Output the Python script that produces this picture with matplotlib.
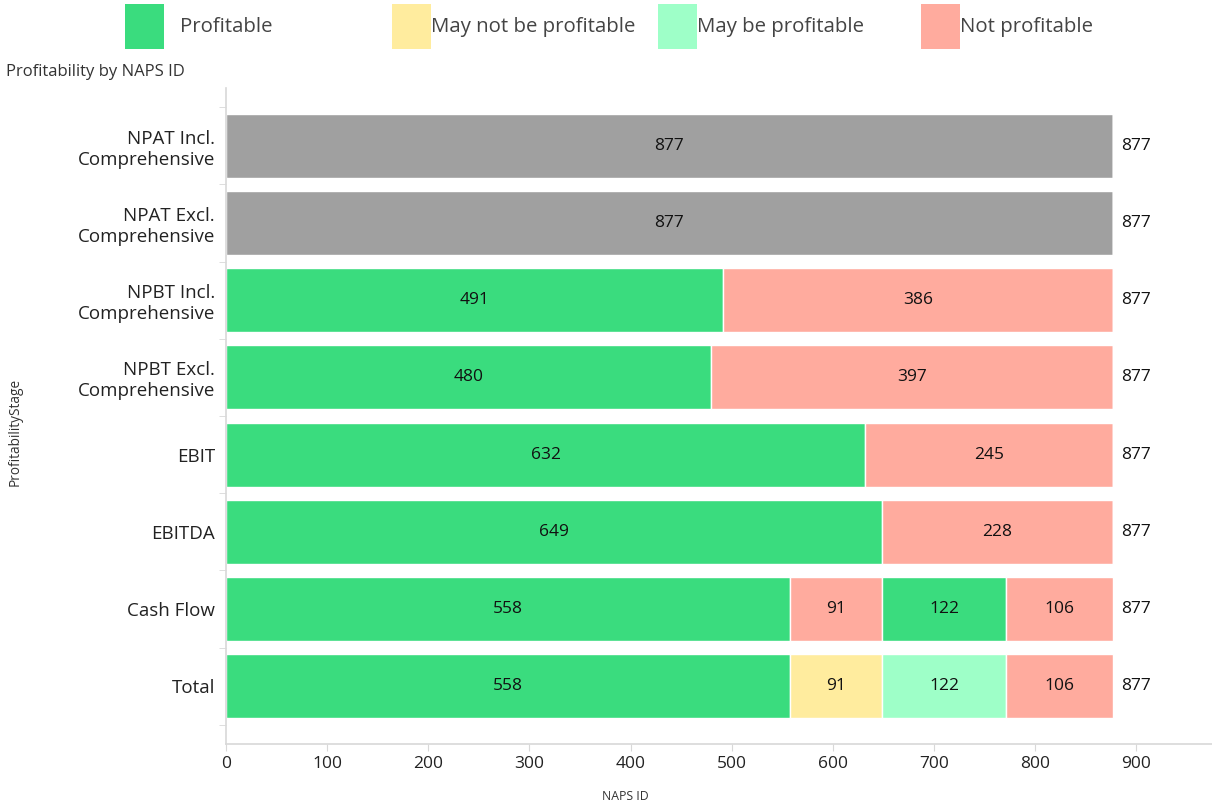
import matplotlib
matplotlib.use("Agg")
import matplotlib.pyplot as plt
from matplotlib.patches import Rectangle

plt.rcParams['font.family'] = ['Open Sans', 'DejaVu Sans']

stages = ["Total", "Cash Flow", "EBITDA", "EBIT", "NPBT Excl.\nComprehensive",
          "NPBT Incl.\nComprehensive", "NPAT Excl.\nComprehensive", "NPAT Incl.\nComprehensive"]
seg1 = [558, 558, 649, 632, 480, 491, 877, 877]
seg1_status = ["Profitable", "Profitable", "Profitable", "Profitable", "Profitable", "Profitable", "No data", "No data"]
seg2 = [91, 91, 228, 245, 397, 386, 0, 0]
seg2_status = ["May not be profitable", "Not profitable", "Not profitable", "Not profitable",
               "Not profitable", "Not profitable", "Not profitable", "Not profitable"]
seg3 = [122, 122, 0, 0, 0, 0, 0, 0]
seg3_status = ["May be profitable", "Profitable"] + ["Profitable"] * 6
seg4 = [106, 106, 0, 0, 0, 0, 0, 0]
seg4_status = ["Not profitable"] * 8
totals = [877, 877, 877, 877, 877, 877, 877, 877]

legend_labels = ["Profitable", "May not be profitable", "May be profitable", "Not profitable"]
colors = {"Profitable": "#3ADC7E", "May not be profitable": "#FFEC9E",
          "May be profitable": "#9EFFC8", "Not profitable": "#FFAB9E", "No data": "#A0A0A0"}

W, H = 1212, 807
fig = plt.figure(figsize=(W / 100, H / 100), dpi=100)
ax = fig.add_axes([226 / W, 1 - 744 / H, (W - 226) / W, (744 - 88) / H])

segs = [(seg1, seg1_status), (seg2, seg2_status), (seg3, seg3_status), (seg4, seg4_status)]
left = [0] * len(stages)
for vals, stats in segs:
    cols = [colors[s] for s in stats]
    bars = ax.barh(range(len(stages)), vals, left=left, height=0.83, color=cols,
                   edgecolor="white", linewidth=1)
    for i, (b, v) in enumerate(zip(bars, vals)):
        if v > 0:
            ax.text(left[i] + v / 2, i, str(v), ha="center", va="center", fontsize=12.5, color="#111")
    left = [l + v for l, v in zip(left, vals)]

for i, t in enumerate(totals):
    ax.text(t + 8, i, str(t), ha="left", va="center", fontsize=12.5, color="#111")

ax.set_xlim(0, 975)
ax.set_ylim(-0.75, len(stages) - 0.25)
ax.set_yticks(range(len(stages)))
ax.set_yticklabels(stages, fontsize=13.5, color="#222")
ax.set_yticks([i - 0.5 for i in range(len(stages) + 1)], minor=True)
ax.tick_params(axis="y", which="major", length=0, pad=8)
ax.tick_params(axis="y", which="minor", length=5, color="#d8d8d8")
ax.set_xticks([0, 100, 200, 300, 400, 500, 600, 700, 800, 900])
ax.tick_params(axis="x", labelsize=12.5, labelcolor="#222", length=5, color="#d8d8d8")
for s in ["top", "right"]:
    ax.spines[s].set_visible(False)
for s in ["left", "bottom"]:
    ax.spines[s].set_color("#d8d8d8")
    ax.spines[s].set_linewidth(1.2)

fig.text(625 / W, 1 - 797 / H, "NAPS ID", fontsize=8.8, color="#333", ha="center", va="center")
fig.text(15 / W, 1 - 432 / H, "ProfitabilityStage", rotation=90, fontsize=9.8, color="#333",
         ha="center", va="center")
fig.text(6 / W, 1 - 72 / H, "Profitability by NAPS ID", fontsize=12, color="#333",
         ha="left", va="center")

# Legend
leg_x = [125, 392, 658, 921]
for x, lab in zip(leg_x, legend_labels):
    fig.patches.append(Rectangle((x / W, 1 - 49 / H), 39 / W, 45 / H, transform=fig.transFigure,
                                 facecolor=colors[lab], edgecolor="none"))
    tx = x + 39 + (16 if lab == "Profitable" else 0)
    fig.text(tx / W, 1 - 27 / H, lab, fontsize=14.7, color="#444", ha="left", va="center")

fig.savefig("out.png", dpi=100)
